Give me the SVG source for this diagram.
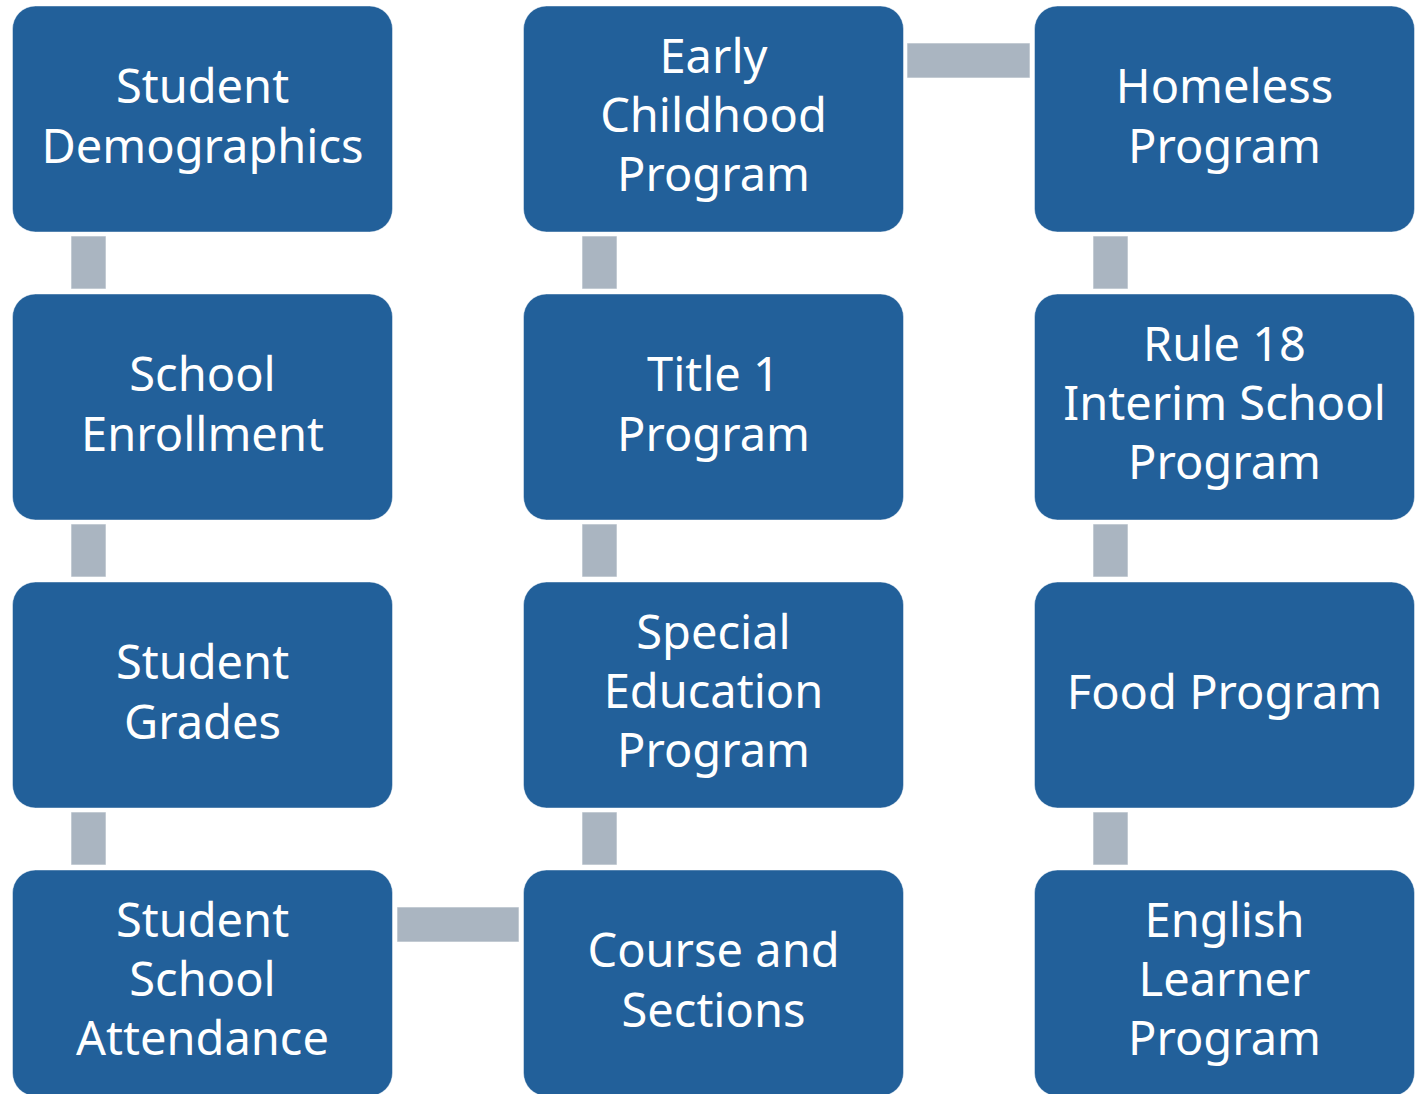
<svg xmlns="http://www.w3.org/2000/svg" width="1428" height="1094" viewBox="0 0 1428 1094">
<style>
.box{fill:#22609a;stroke:#ffffff;stroke-opacity:0.45;stroke-width:1}
.con{fill:#aab5c1;stroke:#ffffff;stroke-opacity:0.6;stroke-width:1}
.t{font-family:"Noto Sans","Open Sans","DejaVu Sans",sans-serif;font-size:47px;fill:#ffffff;text-anchor:middle}
</style>
<rect width="1428" height="1094" fill="#ffffff"/>
<g id="connectors">
<rect class="con" x="71" y="236" width="35" height="53"/>
<rect class="con" x="71" y="524" width="35" height="53"/>
<rect class="con" x="71" y="812" width="35" height="53"/>
<rect class="con" x="582" y="236" width="35" height="53"/>
<rect class="con" x="582" y="524" width="35" height="53"/>
<rect class="con" x="582" y="812" width="35" height="53"/>
<rect class="con" x="1093" y="236" width="35" height="53"/>
<rect class="con" x="1093" y="524" width="35" height="53"/>
<rect class="con" x="1093" y="812" width="35" height="53"/>
<rect class="con" x="907" y="43" width="123" height="35"/>
<rect class="con" x="397" y="907" width="122" height="35"/>
</g>
<g id="student-demographics">
<rect class="box" x="12.5" y="6" width="380" height="226" rx="23"/>
<text class="t" x="202.5" y="103">Student</text>
<text class="t" x="202.5" y="163">Demographics</text>
</g>
<g id="school-enrollment">
<rect class="box" x="12.5" y="294" width="380" height="226" rx="23"/>
<text class="t" x="202.5" y="391">School</text>
<text class="t" x="202.5" y="451">Enrollment</text>
</g>
<g id="student-grades">
<rect class="box" x="12.5" y="582" width="380" height="226" rx="23"/>
<text class="t" x="202.5" y="679">Student</text>
<text class="t" x="202.5" y="739">Grades</text>
</g>
<g id="student-school-attendance">
<rect class="box" x="12.5" y="870" width="380" height="226" rx="23"/>
<text class="t" x="202.5" y="937">Student</text>
<text class="t" x="202.5" y="996">School</text>
<text class="t" x="202.5" y="1055">Attendance</text>
</g>
<g id="early-childhood-program">
<rect class="box" x="523.5" y="6" width="380" height="226" rx="23"/>
<text class="t" x="713.5" y="73">Early</text>
<text class="t" x="713.5" y="132">Childhood</text>
<text class="t" x="713.5" y="191">Program</text>
</g>
<g id="title-1-program">
<rect class="box" x="523.5" y="294" width="380" height="226" rx="23"/>
<text class="t" x="713.5" y="391">Title 1</text>
<text class="t" x="713.5" y="451">Program</text>
</g>
<g id="special-education-program">
<rect class="box" x="523.5" y="582" width="380" height="226" rx="23"/>
<text class="t" x="713.5" y="649">Special</text>
<text class="t" x="713.5" y="708">Education</text>
<text class="t" x="713.5" y="767">Program</text>
</g>
<g id="course-and-sections">
<rect class="box" x="523.5" y="870" width="380" height="226" rx="23"/>
<text class="t" x="713.5" y="967">Course and</text>
<text class="t" x="713.5" y="1027">Sections</text>
</g>
<g id="homeless-program">
<rect class="box" x="1034.5" y="6" width="380" height="226" rx="23"/>
<text class="t" x="1224.5" y="103">Homeless</text>
<text class="t" x="1224.5" y="163">Program</text>
</g>
<g id="rule-18-interim-school-program">
<rect class="box" x="1034.5" y="294" width="380" height="226" rx="23"/>
<text class="t" x="1224.5" y="361">Rule 18</text>
<text class="t" x="1224.5" y="420">Interim School</text>
<text class="t" x="1224.5" y="479">Program</text>
</g>
<g id="food-program">
<rect class="box" x="1034.5" y="582" width="380" height="226" rx="23"/>
<text class="t" x="1224.5" y="709">Food Program</text>
</g>
<g id="english-learner-program">
<rect class="box" x="1034.5" y="870" width="380" height="226" rx="23"/>
<text class="t" x="1224.5" y="937">English</text>
<text class="t" x="1224.5" y="996">Learner</text>
<text class="t" x="1224.5" y="1055">Program</text>
</g>
</svg>
